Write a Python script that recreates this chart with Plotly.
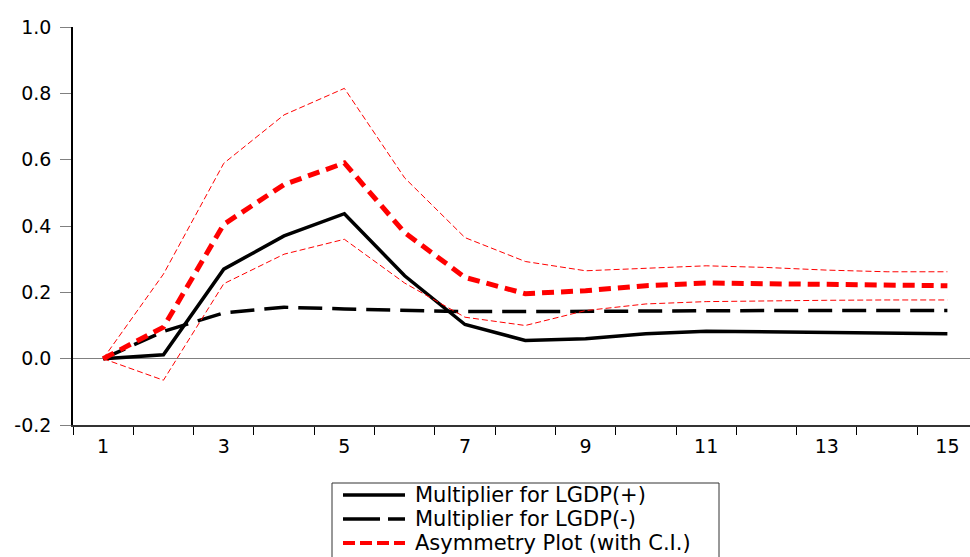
import plotly.graph_objects as go

periods = [str(i) for i in range(1, 16)]
tick_text = [p if int(p) % 2 == 1 else "" for p in periods]

mult_pos = [0.0, 0.012, 0.270, 0.370, 0.437, 0.250, 0.103, 0.055, 0.060, 0.075, 0.083, 0.081, 0.078, 0.076, 0.075]
mult_neg = [0.0, 0.082, 0.138, 0.155, 0.150, 0.145, 0.142, 0.142, 0.143, 0.145, 0.145, 0.145, 0.145, 0.145, 0.145]
asym = [0.0, 0.095, 0.405, 0.525, 0.590, 0.380, 0.245, 0.196, 0.205, 0.220, 0.228, 0.226, 0.224, 0.222, 0.220]
ci_upper = [0.0, 0.255, 0.589, 0.735, 0.815, 0.545, 0.365, 0.293, 0.265, 0.272, 0.280, 0.275, 0.267, 0.262, 0.262]
ci_lower = [0.0, -0.065, 0.226, 0.315, 0.360, 0.228, 0.125, 0.100, 0.145, 0.165, 0.172, 0.175, 0.176, 0.177, 0.177]

legend_labels = ["Multiplier for LGDP(+)", "Multiplier for LGDP(-)", "Asymmetry Plot (with C.I.)"]

FONT = "DejaVu Sans, Arial, Liberation Sans, sans-serif"
W, H = 970, 557
ML, MR, MT, MB = 73, 0, 27, 132
PW, PH = W - ML - MR, H - MT - MB


def px(x):
    return (x - ML) / PW


def py(y):
    return (H - MB - y) / PH


fig = go.Figure()
fig.add_trace(go.Scatter(x=periods, y=mult_pos, mode="lines",
                         line=dict(color="black", width=3.5), showlegend=False))
fig.add_trace(go.Scatter(x=periods, y=mult_neg, mode="lines",
                         line=dict(color="black", width=3.5, dash="24px,10px"), showlegend=False))
fig.add_trace(go.Scatter(x=periods, y=ci_upper, mode="lines",
                         line=dict(color="red", width=1, dash="6px,3px"), showlegend=False))
fig.add_trace(go.Scatter(x=periods, y=ci_lower, mode="lines",
                         line=dict(color="red", width=1, dash="6px,3px"), showlegend=False))
fig.add_trace(go.Scatter(x=periods, y=asym, mode="lines",
                         line=dict(color="red", width=5, dash="12px,7px"), showlegend=False))

shapes = []
annotations = []
# legend box
shapes.append(dict(type="rect", xref="paper", yref="paper",
                   x0=px(332), x1=px(719), y0=py(483), y1=py(562),
                   line=dict(color="#333333", width=1), fillcolor="white", layer="above"))
rows = [495, 519, 543]
styles = [dict(color="black", width=3.5, dash="solid"),
          dict(color="black", width=3.5, dash="37px,8px,17px,200px"),
          dict(color="red", width=4, dash="12px,5px")]
for r, st, lab in zip(rows, styles, legend_labels):
    shapes.append(dict(type="line", xref="paper", yref="paper",
                       x0=px(343), x1=px(405), y0=py(r), y1=py(r), line=st, layer="above"))
    annotations.append(dict(xref="paper", yref="paper", x=px(413), y=py(r),
                            xanchor="left", yanchor="middle", text=lab, showarrow=False,
                            font=dict(family=FONT, size=21, color="black")))

fig.update_layout(
    width=W, height=H,
    margin=dict(l=ML, r=MR, t=MT, b=MB, pad=0, autoexpand=False),
    plot_bgcolor="white", paper_bgcolor="white",
    showlegend=False,
    shapes=shapes, annotations=annotations,
    font=dict(family=FONT, size=19, color="black"),
    xaxis=dict(type="category", range=[-0.5, 14.375], tickmode="array",
               tickvals=periods, ticktext=tick_text, tickson="boundaries",
               ticks="outside", ticklen=8, tickcolor="black", tickwidth=1.2,
               showline=True, linecolor="#333333", linewidth=1.5,
               showgrid=False, zeroline=False, automargin=False, ticklabelstandoff=3,
               tickfont=dict(family=FONT, size=19, color="black")),
    yaxis=dict(range=[-0.2, 1.0], tickmode="array",
               tickvals=[-0.2, 0.0, 0.2, 0.4, 0.6, 0.8, 1.0],
               ticktext=["-0.2", "0.0", "0.2", "0.4", "0.6", "0.8", "1.0"],
               ticks="outside", ticklen=11, tickcolor="#808080", tickwidth=1.2,
               showline=True, linecolor="black", linewidth=1.5,
               showgrid=False, zeroline=True, zerolinecolor="#808080", zerolinewidth=1.2,
               automargin=False, ticklabelstandoff=5,
               tickfont=dict(family=FONT, size=19, color="black")),
)

fig.write_html(
    "out.html",
    config={"displayModeBar": False},
    post_script="document.body.style.margin='0';document.body.style.overflow='hidden';",
)
